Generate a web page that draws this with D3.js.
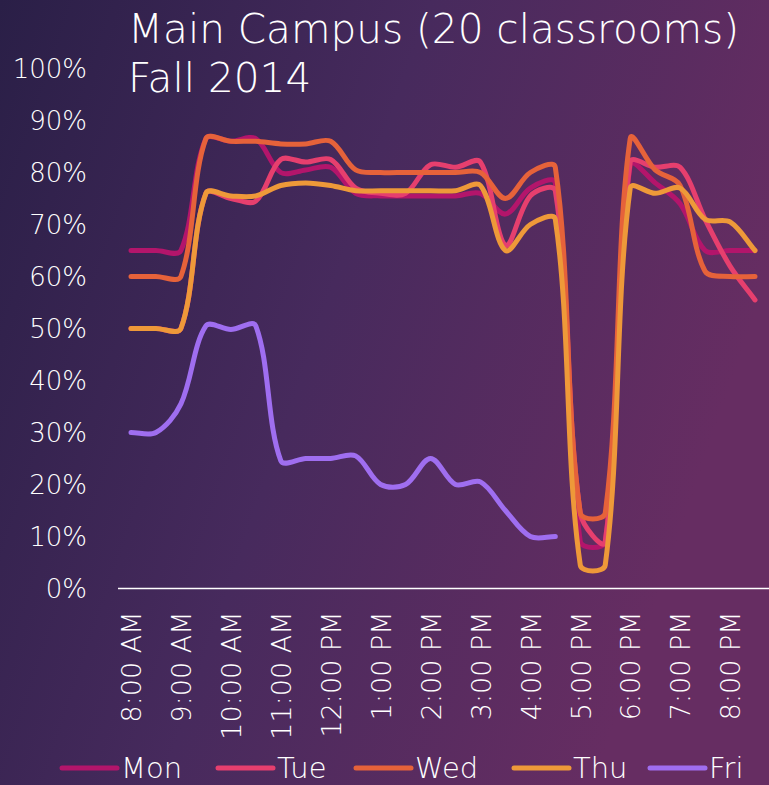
<!DOCTYPE html>
<html lang="en">
<head>
<meta charset="UTF-8">
<title>Main Campus occupancy</title>
<script src="https://d3js.org/d3.v7.min.js"></script>
<style>
  html, body { margin: 0; padding: 0; background: #3a2856; }
  svg { display: block; }
  text { font-family: "DejaVu Sans", sans-serif; font-weight: 200; fill: #fff; }
</style>
</head>
<body>
<svg id="chart" width="769" height="785"></svg>
<script>
// half-hour slots, 8:00 AM .. 8:30 PM
const times = ["8:00 AM", "8:30 AM", "9:00 AM", "9:30 AM", "10:00 AM", "10:30 AM",
    "11:00 AM", "11:30 AM", "12:00 PM", "12:30 PM", "1:00 PM", "1:30 PM", "2:00 PM",
    "2:30 PM", "3:00 PM", "3:30 PM", "4:00 PM", "4:30 PM", "5:00 PM", "5:30 PM",
    "6:00 PM", "6:30 PM", "7:00 PM", "7:30 PM", "8:00 PM", "8:30 PM"];
const hourTicks = ["8:00 AM", "9:00 AM", "10:00 AM", "11:00 AM", "12:00 PM", "1:00 PM",
    "2:00 PM", "3:00 PM", "4:00 PM", "5:00 PM", "6:00 PM", "7:00 PM", "8:00 PM"];

// occupancy in percent
const mon = [65, 65, 65, 86.5, 86, 86.5, 80, 80.5, 81, 76, 75.5, 75.5, 75.5, 75.5, 76, 72, 77, 78, 9, 9, 81.5, 78, 74, 65, 65, 65];
const tue = [50, 50, 50, 76, 75, 74.5, 82.5, 82, 82.5, 77, 76, 76, 81.5, 81, 82, 66, 75.5, 76.5, 14.5, 9, 82, 81, 81, 71, 62, 55.5];
const wed = [60, 60, 60, 86.5, 86, 86, 85.5, 85.5, 86, 80.5, 80, 80, 80, 80, 80, 75, 80, 81, 14.5, 14.5, 86.5, 80.5, 77.5, 61, 60, 60];
const thu = [50, 50, 50, 76, 75.5, 75.5, 77.5, 78, 77.5, 76.5, 76.5, 76.5, 76.5, 76.5, 77.5, 65, 70, 71, 4.5, 4.5, 77, 76, 77, 71, 70.5, 65];
const fri = [30, 30, 35.5, 50.5, 49.8, 50.5, 24.6, 25, 25, 25.5, 20, 20, 25, 20, 20.5, 15, 10, 10,
    null, null, null, null, null, null, null, null];

const yTicks = [0, 10, 20, 30, 40, 50, 60, 70, 80, 90, 100];
const titleLines = ["Main Campus (20 classrooms)", "Fall 2014"];

const series = [
    { name: "Mon", values: mon, color: "#b3156b" },
    { name: "Tue", values: tue, color: "#e63f6e" },
    { name: "Wed", values: wed, color: "#e6623a" },
    { name: "Thu", values: thu, color: "#ee9939" },
    { name: "Fri", values: fri, color: "#9f6ef0" }
];

const width = 769, height = 785;
const svg = d3.select("#chart");

// spreadsheet-style smoothed line: bezier handles scaled by neighbouring segment lengths
function smoothCurve(context) {
    let pts = [];
    return {
        areaStart() {},
        areaEnd() {},
        lineStart() { pts = []; },
        point(px, py) { pts.push([+px, +py]); },
        lineEnd() {
            const n = pts.length;
            if (!n) return;
            context.moveTo(pts[0][0], pts[0][1]);
            if (n === 1) { context.lineTo(pts[0][0], pts[0][1]); return; }
            const dist = (a, b) => Math.hypot(b[0] - a[0], b[1] - a[1]);
            for (let i = 0; i < n - 1; i++) {
                const p0 = pts[Math.max(i - 1, 0)], p1 = pts[i], p2 = pts[i + 1], p3 = pts[Math.min(i + 2, n - 1)];
                const d01 = dist(p0, p1), d12 = dist(p1, p2), d23 = dist(p2, p3);
                const f1 = (d01 + d12) ? d12 / (d01 + d12) / 3 : 0;
                const f2 = (d12 + d23) ? d12 / (d12 + d23) / 3 : 0;
                context.bezierCurveTo(
                    p1[0] + (p2[0] - p0[0]) * f1, p1[1] + (p2[1] - p0[1]) * f1,
                    p2[0] - (p3[0] - p1[0]) * f2, p2[1] - (p3[1] - p1[1]) * f2,
                    p2[0], p2[1]);
            }
        }
    };
}

// background
const defs = svg.append("defs");
const grad = defs.append("linearGradient")
    .attr("id", "bg")
    .attr("x1", 0).attr("y1", 0).attr("x2", 1).attr("y2", 0.35);
grad.append("stop").attr("offset", "0%").attr("stop-color", "#2a1f47");
grad.append("stop").attr("offset", "50%").attr("stop-color", "#472a5d");
grad.append("stop").attr("offset", "100%").attr("stop-color", "#662d62");
svg.append("rect").attr("width", width).attr("height", height).attr("fill", "url(#bg)");

// scales
const x = d3.scalePoint().domain(times).range([131, 755]);
const y = d3.scaleLinear().domain([0, 100]).range([588.5, 68.5]);

// title
svg.selectAll(".title")
    .data(titleLines)
    .enter()
    .append("text")
    .attr("class", "title")
    .attr("x", 128)
    .attr("y", (d, i) => 43 + i * 49)
    .attr("font-size", "40.6px")
    .text(d => d);

// y axis labels only
const yAxis = svg.append("g")
    .attr("transform", "translate(87,0)")
    .call(d3.axisLeft(y).tickValues(yTicks).tickSize(0).tickPadding(0).tickFormat(d => d + "%"));
yAxis.select(".domain").remove();
yAxis.selectAll("text")
    .attr("fill", "#fff")
    .attr("font-size", "26px")
    .attr("font-family", "DejaVu Sans")
    .attr("dy", "0.36em");

// x axis
const xAxis = svg.append("g")
    .attr("transform", "translate(0," + y(0) + ")")
    .call(d3.axisBottom(x).tickValues(hourTicks).tickSize(0));
xAxis.select(".domain").remove();
xAxis.selectAll("text")
    .attr("fill", "#fff")
    .attr("font-size", "27px")
    .attr("font-family", "DejaVu Sans")
    .attr("transform", "rotate(-90)")
    .attr("text-anchor", "end")
    .attr("x", -23)
    .attr("y", 0)
    .attr("dy", "0.36em");

svg.append("line")
    .attr("x1", 118).attr("x2", width)
    .attr("y1", y(0)).attr("y2", y(0))
    .attr("stroke", "#fff")
    .attr("stroke-width", 1.5);

// lines
const line = d3.line()
    .defined(d => d != null)
    .x((d, i) => x(times[i]))
    .y(d => y(d))
    .curve(smoothCurve);

svg.selectAll(".series")
    .data(series)
    .enter()
    .append("path")
    .attr("class", "series")
    .attr("fill", "none")
    .attr("stroke", d => d.color)
    .attr("stroke-width", 5)
    .attr("stroke-linecap", "round")
    .attr("stroke-linejoin", "round")
    .attr("d", d => line(d.values));

// legend
const legendX = [62, 218, 356, 514, 650];
const legend = svg.selectAll(".legend")
    .data(series)
    .enter()
    .append("g")
    .attr("class", "legend")
    .attr("transform", (d, i) => "translate(" + legendX[i] + ",768)");

legend.append("line")
    .attr("x1", 0).attr("x2", 55)
    .attr("stroke", d => d.color)
    .attr("stroke-width", 5)
    .attr("stroke-linecap", "round");

legend.append("text")
    .attr("x", 59)
    .attr("y", 0)
    .attr("dy", "0.36em")
    .attr("font-size", "29px")
    .text(d => d.name);
</script>
</body>
</html>
